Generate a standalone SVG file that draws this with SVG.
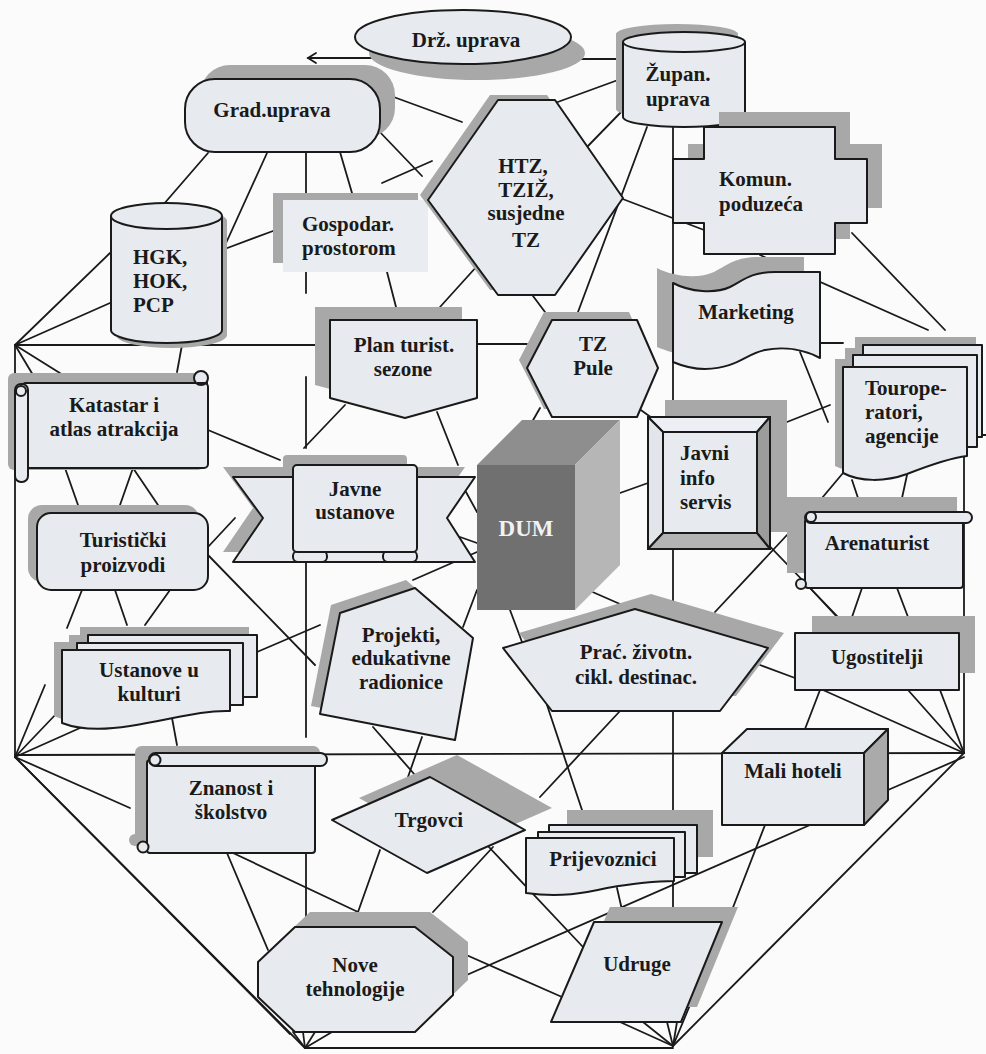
<svg xmlns="http://www.w3.org/2000/svg" width="986" height="1054" viewBox="0 0 986 1054">
<defs>
<style>
.n{fill:#e7ebf0;stroke:#1a1a1a;stroke-width:2;stroke-linejoin:round}
.s{fill:#a8a8a8;stroke:none}
.c{stroke:#1a1a1a;stroke-width:1.8;fill:none;stroke-linecap:round}
.t{font-family:"Liberation Serif","Times New Roman",serif;font-weight:bold;font-size:21px;fill:#1a1a1a;text-anchor:middle}
.l{text-anchor:start}
</style>
</defs>
<rect width="986" height="1054" fill="#fbfbfb"/>
<g id="connectors">
<line class="c" x1="308" y1="58" x2="380" y2="58"/>
<path class="c" d="M316,53 L308,58 L316,63"/>
<line class="c" x1="540" y1="59" x2="623" y2="59"/>
<line class="c" x1="380" y1="92" x2="462" y2="122"/>
<line class="c" x1="208" y1="153" x2="163" y2="205"/>
<line class="c" x1="267" y1="153" x2="222" y2="252"/>
<line class="c" x1="306" y1="152" x2="306" y2="193"/>
<line class="c" x1="340" y1="152" x2="352" y2="193"/>
<line class="c" x1="376" y1="128" x2="422" y2="176"/>
<line class="c" x1="382" y1="183" x2="432" y2="161"/>
<line class="c" x1="222" y1="250" x2="273" y2="231"/>
<line class="c" x1="306" y1="272" x2="306" y2="293"/>
<line class="c" x1="387" y1="272" x2="396" y2="307"/>
<line class="c" x1="478" y1="265" x2="440" y2="307"/>
<line class="c" x1="530" y1="292" x2="545" y2="312"/>
<line class="c" x1="647" y1="127" x2="578" y2="312"/>
<line class="c" x1="555" y1="103" x2="618" y2="80"/>
<line class="c" x1="587" y1="147" x2="625" y2="108"/>
<line class="c" x1="620" y1="198" x2="704" y2="230"/>
<line class="c" x1="673" y1="127" x2="673" y2="922"/>
<line class="c" x1="15" y1="345" x2="330" y2="345"/>
<line class="c" x1="477" y1="344" x2="527" y2="344"/>
<line class="c" x1="658" y1="344" x2="673" y2="344"/>
<line class="c" x1="820" y1="343" x2="843" y2="343"/>
<line class="c" x1="15" y1="345" x2="110" y2="253"/>
<line class="c" x1="15" y1="345" x2="110" y2="303"/>
<line class="c" x1="15" y1="345" x2="33" y2="375"/>
<line class="c" x1="15" y1="345" x2="63" y2="375"/>
<line class="c" x1="182" y1="345" x2="177" y2="372"/>
<line class="c" x1="15" y1="345" x2="15" y2="757"/>
<line class="c" x1="208" y1="430" x2="280" y2="460"/>
<line class="c" x1="65" y1="468" x2="78" y2="505"/>
<line class="c" x1="133" y1="468" x2="120" y2="505"/>
<line class="c" x1="133" y1="468" x2="158" y2="505"/>
<line class="c" x1="208" y1="547" x2="235" y2="518"/>
<line class="c" x1="208" y1="555" x2="315" y2="665"/>
<line class="c" x1="82" y1="590" x2="67" y2="628"/>
<line class="c" x1="115" y1="590" x2="127" y2="625"/>
<line class="c" x1="170" y1="590" x2="145" y2="625"/>
<line class="c" x1="257" y1="652" x2="320" y2="625"/>
<line class="c" x1="345" y1="405" x2="304" y2="448"/>
<line class="c" x1="437" y1="412" x2="458" y2="465"/>
<line class="c" x1="306" y1="377" x2="306" y2="448"/>
<line class="c" x1="306" y1="562" x2="306" y2="737"/>
<line class="c" x1="306" y1="853" x2="306" y2="927"/>
<line class="c" x1="413" y1="580" x2="477" y2="552"/>
<line class="c" x1="477" y1="590" x2="463" y2="627"/>
<line class="c" x1="466" y1="492" x2="477" y2="512"/>
<line class="c" x1="460" y1="537" x2="477" y2="543"/>
<line class="c" x1="510" y1="610" x2="522" y2="642"/>
<line class="c" x1="588" y1="590" x2="620" y2="604"/>
<line class="c" x1="620" y1="493" x2="648" y2="483"/>
<line class="c" x1="540" y1="408" x2="532" y2="422"/>
<line class="c" x1="638" y1="408" x2="652" y2="418"/>
<line class="c" x1="757" y1="533" x2="838" y2="617"/>
<line class="c" x1="787" y1="535" x2="715" y2="612"/>
<line class="c" x1="800" y1="352" x2="828" y2="422"/>
<line class="c" x1="787" y1="422" x2="830" y2="405"/>
<line class="c" x1="760" y1="255" x2="928" y2="330"/>
<line class="c" x1="852" y1="233" x2="945" y2="330"/>
<line class="c" x1="843" y1="473" x2="822" y2="498"/>
<line class="c" x1="852" y1="480" x2="858" y2="498"/>
<line class="c" x1="907" y1="475" x2="902" y2="498"/>
<line class="c" x1="964" y1="455" x2="964" y2="753"/>
<line class="c" x1="977" y1="435" x2="986" y2="435"/>
<line class="c" x1="810" y1="588" x2="837" y2="617"/>
<line class="c" x1="862" y1="588" x2="852" y2="617"/>
<line class="c" x1="897" y1="588" x2="908" y2="617"/>
<line class="c" x1="760" y1="665" x2="795" y2="678"/>
<line class="c" x1="823" y1="690" x2="964" y2="753"/>
<line class="c" x1="908" y1="690" x2="964" y2="753"/>
<line class="c" x1="940" y1="690" x2="964" y2="753"/>
<line class="c" x1="820" y1="690" x2="805" y2="729"/>
<line class="c" x1="964" y1="757" x2="888" y2="790"/>
<line class="c" x1="15" y1="755" x2="964" y2="753"/>
<line class="c" x1="964" y1="753" x2="673" y2="1046"/>
<line class="c" x1="673" y1="1046" x2="620" y2="1022"/>
<line class="c" x1="673" y1="1046" x2="643" y2="1022"/>
<line class="c" x1="673" y1="1046" x2="667" y2="1022"/>
<line class="c" x1="673" y1="1046" x2="677" y2="1022"/>
<line class="c" x1="673" y1="1046" x2="690" y2="1005"/>
<line class="c" x1="305" y1="1048" x2="673" y2="1048"/>
<line class="c" x1="305" y1="1048" x2="293" y2="1032"/>
<line class="c" x1="305" y1="1048" x2="303" y2="1032"/>
<line class="c" x1="305" y1="1048" x2="315" y2="1032"/>
<line class="c" x1="305" y1="1048" x2="332" y2="1032"/>
<line class="c" x1="15" y1="757" x2="45" y2="685"/>
<line class="c" x1="15" y1="757" x2="57" y2="713"/>
<line class="c" x1="15" y1="757" x2="80" y2="728"/>
<line class="c" x1="15" y1="757" x2="130" y2="808"/>
<line class="c" x1="15" y1="757" x2="305" y2="1048"/>
<line class="c" x1="15" y1="757" x2="290" y2="1034"/>
<line class="c" x1="172" y1="718" x2="177" y2="745"/>
<line class="c" x1="227" y1="853" x2="268" y2="950"/>
<line class="c" x1="233" y1="853" x2="358" y2="912"/>
<line class="c" x1="373" y1="727" x2="415" y2="775"/>
<line class="c" x1="422" y1="737" x2="408" y2="777"/>
<line class="c" x1="380" y1="850" x2="358" y2="912"/>
<line class="c" x1="493" y1="847" x2="433" y2="912"/>
<line class="c" x1="487" y1="845" x2="583" y2="947"/>
<line class="c" x1="620" y1="711" x2="540" y2="797"/>
<line class="c" x1="547" y1="705" x2="587" y2="825"/>
<line class="c" x1="765" y1="825" x2="732" y2="910"/>
<line class="c" x1="810" y1="825" x2="453" y2="981"/>
<line class="c" x1="455" y1="950" x2="562" y2="997"/>
<line class="c" x1="617" y1="888" x2="622" y2="910"/>
</g>

<g id="drz-uprava">
<ellipse class="s" cx="477" cy="53" rx="108" ry="27"/>
<ellipse class="n" cx="463" cy="37" rx="108" ry="27"/>
<text class="t" x="466" y="47">Drž. uprava</text>
</g>

<g id="zupan-uprava">
<path class="s" d="M616,34 V109 A61,10 0 0 0 738,109 V34 A61,10 0 0 0 616,34 Z"/>
<path class="n" d="M623,42 V117 A61,10 0 0 0 745,117 V42 A61,10 0 0 0 623,42 Z"/>
<path class="n" d="M623,42 A61,10 0 0 0 745,42" fill="none"/>
<text class="t" x="678" y="81">Župan.</text>
<text class="t" x="678" y="106">uprava</text>
</g>

<g id="grad-uprava">
<rect class="s" x="200" y="65" width="195" height="73" rx="30"/>
<rect class="n" x="185" y="79" width="195" height="73" rx="30"/>
<text class="t" x="272" y="117">Grad.uprava</text>
</g>

<g id="hgk">
<path class="s" d="M116,221 V335 A55.5,13 0 0 0 227,335 V221 A55.5,13 0 0 0 116,221 Z"/>
<path class="n" d="M111,216 V330 A55.5,13 0 0 0 222,330 V216 A55.5,13 0 0 0 111,216 Z"/>
<path class="n" d="M111,216 A55.5,13 0 0 0 222,216" fill="none"/>
<text class="t l" x="133" y="264">HGK,</text>
<text class="t l" x="133" y="288">HOK,</text>
<text class="t l" x="133" y="312">PCP</text>
</g>

<g id="gospodar">
<rect class="s" x="273" y="193" width="145" height="70"/>
<rect x="283" y="200" width="145" height="72" fill="#e9edf1"/>
<text class="t l" x="302" y="231">Gospodar.</text>
<text class="t l" x="302" y="255">prostorom</text>
</g>

<g id="htz">
<polygon class="s" points="490,95 547,95 615,193 547,290 490,290 420,195"/>
<polygon class="n" points="498,100 555,100 623,198 555,295 498,295 428,200"/>
<text class="t" x="523" y="173">HTZ,</text>
<text class="t" x="526" y="197">TZIŽ,</text>
<text class="t" x="526" y="220">susjedne</text>
<text class="t" x="526" y="247">TZ</text>
</g>

<g id="komun">
<path class="s" transform="translate(15,-15)" d="M704,127 H835 V159 H867 V223 H835 V254 H704 V223 H673 V159 H704 Z"/>
<path class="n" d="M704,127 H835 V159 H867 V223 H835 V254 H704 V223 H673 V159 H704 Z"/>
<text class="t l" x="719" y="186">Komun.</text>
<text class="t l" x="719" y="211">poduzeća</text>
</g>

<g id="marketing">
<path class="s" transform="translate(-16,-15)" d="M673,283 C690,292 715,294 730,287 C745,279 752,272 775,272 L820,272 L820,358 C805,350 785,346 765,350 C745,354 738,368 705,369 C690,369 680,365 673,362 Z"/>
<path class="n" d="M673,283 C690,292 715,294 730,287 C745,279 752,272 775,272 L820,272 L820,358 C805,350 785,346 765,350 C745,354 738,368 705,369 C690,369 680,365 673,362 Z"/>
<text class="t" x="746" y="319">Marketing</text>
</g>

<g id="tz-pule">
<polygon class="s" points="519,360 544,312 629,312 650,360 629,409 544,409"/>
<polygon class="n" points="527,368 552,320 637,320 658,368 637,417 552,417"/>
<text class="t" x="593" y="351">TZ</text>
<text class="t" x="593" y="375">Pule</text>
</g>

<g id="plan-turist">
<polygon class="s" points="315,307 462,307 462,385 390,405 315,385"/>
<polygon class="n" points="330,320 477,320 477,398 405,418 330,398"/>
<text class="t" x="404" y="352">Plan turist.</text>
<text class="t" x="403" y="376">sezone</text>
</g>

<g id="katastar">
<rect class="s" x="8" y="373" width="196" height="97" rx="6"/>
<rect class="n" x="22" y="383" width="186" height="85" rx="4"/>
<circle class="n" cx="201" cy="378" r="7"/>
<path class="n" d="M197,383 H208" fill="none"/>
<rect class="n" x="15" y="384" width="13" height="98" rx="6"/>
<circle class="n" cx="21" cy="391" r="5"/>
<text class="t" x="114" y="412">Katastar i</text>
<text class="t" x="114" y="436">atlas atrakcija</text>
</g>

<g id="javne-ustanove">
<g transform="translate(-10,-10)">
<polygon class="s" points="233,477 475,477 447,518 475,562 233,562 263,518"/>
<rect class="s" x="293" y="465" width="124" height="87" rx="4"/>
</g>
<polygon class="n" points="233,477 475,477 447,518 475,562 233,562 263,518"/>
<rect class="n" x="293" y="551" width="34" height="11" rx="5"/>
<rect class="n" x="383" y="551" width="34" height="11" rx="5"/>
<rect class="n" x="293" y="465" width="124" height="87" rx="4"/>
<text class="t" x="355" y="496">Javne</text>
<text class="t" x="355" y="519">ustanove</text>
</g>

<g id="dum">
<polygon points="477,465 522,420 620,420 575,465" fill="#8e8e8e"/>
<polygon points="575,465 620,420 620,565 575,610" fill="#b6b6b6"/>
<rect x="477" y="465" width="98" height="145" fill="#707070"/>
<text class="t" x="526" y="536" style="fill:#f2f2f2;font-size:23px">DUM</text>
</g>

<g id="javni-info">
<rect class="s" x="665" y="400" width="122" height="132"/>
<rect class="n" x="648" y="417" width="122" height="132"/>
<polygon class="n" points="648,417 770,417 757,432 663,432" style="fill:#eceff3"/>
<polygon class="n" points="648,417 663,432 663,533 648,549" style="fill:#e2e6eb"/>
<polygon class="n" points="770,417 770,549 757,533 757,432" style="fill:#9c9c9c"/>
<polygon class="n" points="648,549 770,549 757,533 663,533" style="fill:#b4b4b4"/>
<rect class="n" x="663" y="432" width="94" height="101"/>
<text class="t l" x="680" y="460">Javni</text>
<text class="t l" x="680" y="485">info</text>
<text class="t l" x="680" y="509">servis</text>
</g>

<g id="touroperatori">
<path class="s" d="M855,337 H976 V430 L966,430 V450 L959,450 C942,452 928,458 899,467 C877,474 852,474 835,466 V359 H845 V348 H855 Z"/>
<rect class="n" x="863" y="345" width="119" height="92"/>
<rect class="n" x="853" y="355" width="124" height="92"/>
<path class="n" d="M843,367 H967 V456 C950,458 930,465 907,474 C885,482 860,482 843,473 Z"/>
<text class="t l" x="865" y="395">Tourope-</text>
<text class="t l" x="865" y="419">ratori,</text>
<text class="t l" x="865" y="443">agencije</text>
</g>

<g id="arenaturist">
<rect class="s" x="787" y="497" width="170" height="76"/>
<rect class="n" x="805" y="519" width="158" height="69" rx="3"/>
<rect class="n" x="805" y="512" width="167" height="11" rx="5.5"/>
<circle class="n" cx="811" cy="517" r="5"/>
<circle class="n" cx="801" cy="584" r="5"/>
<text class="t" x="877" y="550">Arenaturist</text>
</g>

<g id="ugostitelji">
<rect class="s" x="812" y="616" width="163" height="57"/>
<rect class="n" x="795" y="633" width="164" height="57"/>
<text class="t" x="877" y="664">Ugostitelji</text>
</g>

<g id="mali-hoteli">
<polygon class="n" points="722,753 747,729 888,729 864,753"/>
<polygon class="n" points="864,753 888,729 888,800 864,825" style="fill:#aaaaaa"/>
<rect class="n" x="722" y="753" width="142" height="72"/>
<text class="t" x="793" y="778">Mali hoteli</text>
</g>

<g id="prac">
<polygon class="s" points="519,633 651,594 784,633 736,696 568,696"/>
<polygon class="n" points="503,648 635,609 768,648 720,711 552,711"/>
<text class="t" x="636" y="659">Prać. životn.</text>
<text class="t" x="636" y="684">cikl. destinac.</text>
</g>

<g id="projekti">
<polygon class="s" points="406,580 464,630 446,732 311,706 331,605"/>
<polygon class="n" points="415,588 473,638 455,740 320,714 340,613"/>
<text class="t" x="401" y="642">Projekti,</text>
<text class="t" x="401" y="665">edukativne</text>
<text class="t" x="401" y="689">radionice</text>
</g>

<g id="turisticki">
<rect class="s" x="28" y="505" width="171" height="77" rx="14"/>
<rect class="n" x="37" y="513" width="171" height="77" rx="14"/>
<text class="t" x="123" y="547">Turistički</text>
<text class="t" x="123" y="572">proizvodi</text>
</g>

<g id="ustanove">
<path class="s" d="M80,627 H249 V690 H235 V705 H222 C200,708 170,720 130,724 C105,727 80,727 54,716 V642 H69 V635 H80 Z"/>
<rect class="n" x="88" y="635" width="169" height="62"/>
<rect class="n" x="77" y="643" width="166" height="62"/>
<path class="n" d="M62,650 H230 V711 C200,710 170,720 130,726 C105,730 80,730 62,723 Z"/>
<text class="t" x="149" y="677">Ustanove u</text>
<text class="t" x="149" y="701">kulturi</text>
</g>

<g id="znanost">
<g transform="translate(-7,-7)">
<rect class="s" x="142" y="753" width="185" height="13" rx="6.5"/>
<rect class="s" x="142" y="760" width="173" height="93" rx="3"/>
<circle class="s" cx="142" cy="847" r="6"/>
</g>
<rect class="n" x="147" y="760" width="168" height="93" rx="3"/>
<rect class="n" x="149" y="753" width="178" height="13" rx="6.5"/>
<circle class="n" cx="155" cy="760" r="5.5"/>
<circle class="n" cx="143" cy="847" r="5.5"/>
<text class="t" x="231" y="795">Znanost i</text>
<text class="t" x="231" y="819">školstvo</text>
</g>

<g id="trgovci">
<polygon class="s" points="359,798 457,755 552,808 454,851"/>
<polygon class="n" points="332,820 430,777 525,830 427,873"/>
<text class="t" x="429" y="827">Trgovci</text>
</g>

<g id="prijevoznici">
<rect class="s" x="567" y="810" width="146" height="47"/>
<rect class="n" x="549" y="825" width="148" height="48"/>
<rect class="n" x="538" y="832" width="147" height="45"/>
<path class="n" d="M526,838 H674 V881 C650,881 630,884 607,888 C585,893 560,898 526,893 Z"/>
<text class="t" x="603" y="866">Prijevoznici</text>
</g>

<g id="udruge">
<polygon class="s" points="610,907 738,907 697,1007 567,1007"/>
<polygon class="n" points="594,922 722,922 681,1022 551,1022"/>
<text class="t" x="637" y="971">Udruge</text>
</g>

<g id="nove-tehnologije">
<polygon class="s" points="310,912 430,912 468,942 468,980 430,1017 310,1017 273,982 273,947"/>
<polygon class="n" points="295,927 415,927 453,957 453,995 415,1032 295,1032 258,997 258,962"/>
<text class="t" x="355" y="972">Nove</text>
<text class="t" x="355" y="996">tehnologije</text>
</g>
</svg>
